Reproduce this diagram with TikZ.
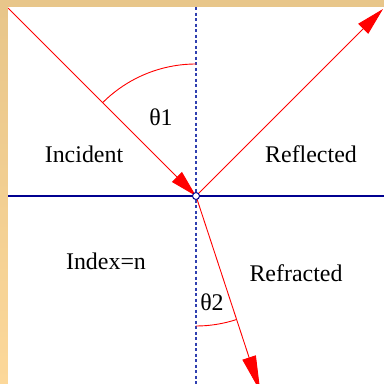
\documentclass[tikz,border=0pt]{standalone}
\usepackage{fontspec}
\setmainfont{Liberation Serif}
\usetikzlibrary{arrows.meta,calc}
\definecolor{tanA}{HTML}{E8C68A}
\definecolor{tanB}{HTML}{FCD89A}
\definecolor{axisblue}{HTML}{000090}
\definecolor{dashblue}{HTML}{3040B0}
\tikzset{
  ray/.style={red, line width=0.9bp},
  tip/.style={-{Triangle[length=#1,width=14bp]}},
  lbl/.style={font=\fontsize{24}{28}\selectfont, anchor=base, inner sep=0pt},
  anglearc/.style={red, line width=0.9bp},
}
\begin{document}
\begin{tikzpicture}[x=1bp,y=-1bp]
\useasboundingbox (0,0) rectangle (384,384);
\clip (0,0) rectangle (384,384);
% frame
\fill[tanA] (0,0) rectangle (384,7);
\shade[top color=tanA, bottom color=tanB] (0,7) rectangle (8,384);
\fill[white] (8,7) rectangle (384,384);
\clip (8,7) rectangle (384,384);
% coordinates
\coordinate (O) at (196,196);
\coordinate (inc) at (8,8);
\coordinate (refl) at (383,9);
\coordinate (refr) at ($(O)+(71.8:206)$);
\coordinate (L) at (8,196);
\coordinate (R) at (384,196);
\coordinate (T) at (196,7);
\coordinate (B) at (196,384);
% axes
\draw[dashblue, line width=1.2bp, dash pattern=on 3bp off 2.5bp] (T) -- (B);
\draw[axisblue, line width=1.4bp] (L) -- (R);
% rays
\draw[ray, tip=27bp] (inc) -- (O);
\draw[ray, tip=28bp] (O) -- (refl);
\draw[ray, tip=36bp] (O) -- (refr);
% angle arcs
\draw[anglearc] (O) ++(-90:132) arc[start angle=-90, end angle=-135, radius=132];
\draw[anglearc] (O) ++(90:130) arc[start angle=90, end angle=71.8, radius=130];
% origin marker
\node[circle, draw=axisblue, fill=white, line width=1bp, minimum size=7bp, inner sep=0pt] (o) at (O) {};
% labels
\node[lbl] (t1) at (161,125) {θ1};
\node[lbl] (inci) at (84,162) {Incident};
\node[lbl] (refl-l) at (311,162) {Reflected};
\node[lbl] (idx) at (106,269) {Index=n};
\node[lbl] (refr-l) at (296,281) {Refracted};
\node[lbl] (t2) at (212,310) {θ2};
\end{tikzpicture}
\end{document}
